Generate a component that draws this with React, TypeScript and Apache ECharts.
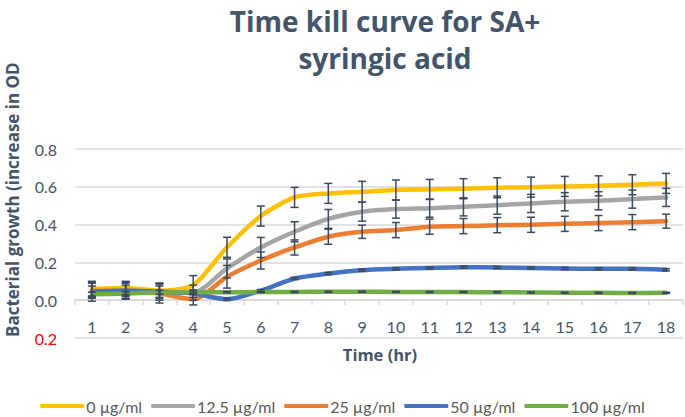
import React, { useEffect, useRef } from "react";
import * as echarts from "echarts";

const hours = ["1", "2", "3", "4", "5", "6", "7", "8", "9", "10", "11", "12", "13", "14", "15", "16", "17", "18"];

const seriesNames = ["0 µg/ml", "12.5 µg/ml", "25 µg/ml", "50 µg/ml", "100 µg/ml"];
const seriesColors = ["#FFC000", "#A5A5A5", "#ED7D31", "#4472C4", "#70AD47"];

const conc0 = [0.06, 0.065, 0.05, 0.08, 0.28, 0.445, 0.544, 0.565, 0.574, 0.583, 0.586, 0.59, 0.595, 0.598, 0.602, 0.605, 0.611, 0.618];
const conc12 = [0.045, 0.05, 0.045, 0.04, 0.168, 0.279, 0.362, 0.43, 0.468, 0.482, 0.487, 0.494, 0.503, 0.512, 0.521, 0.526, 0.535, 0.544];
const conc25 = [0.05, 0.05, 0.035, 0.005, 0.124, 0.21, 0.279, 0.336, 0.362, 0.371, 0.389, 0.392, 0.397, 0.399, 0.404, 0.408, 0.413, 0.418];
const conc50 = [0.045, 0.05, 0.045, 0.035, 0.005, 0.05, 0.115, 0.141, 0.159, 0.166, 0.171, 0.175, 0.173, 0.171, 0.168, 0.166, 0.166, 0.161];
const conc100 = [0.032, 0.035, 0.042, 0.042, 0.042, 0.043, 0.044, 0.045, 0.045, 0.044, 0.043, 0.043, 0.042, 0.041, 0.04, 0.039, 0.038, 0.039];

const err0 = [0.04, 0.035, 0.04, 0.05, 0.053, 0.053, 0.053, 0.053, 0.055, 0.053, 0.053, 0.053, 0.053, 0.053, 0.053, 0.053, 0.053, 0.053];
const err12 = [0.05, 0.045, 0.045, 0.04, 0.05, 0.053, 0.053, 0.05, 0.05, 0.048, 0.048, 0.048, 0.048, 0.048, 0.048, 0.048, 0.048, 0.048];
const err25 = [0.04, 0.04, 0.05, 0.03, 0.06, 0.045, 0.04, 0.04, 0.035, 0.04, 0.04, 0.04, 0.04, 0.04, 0.04, 0.04, 0.04, 0.037];
const err50 = [0.03, 0.03, 0.03, 0.02, 0.006, 0.006, 0.006, 0.006, 0.006, 0.006, 0.006, 0.006, 0.006, 0.006, 0.006, 0.006, 0.006, 0.006];
const err100 = [0.01, 0.01, 0.01, 0.005, 0.004, 0.003, 0.003, 0.003, 0.003, 0.003, 0.003, 0.003, 0.003, 0.003, 0.003, 0.003, 0.003, 0.003];

const yTicks = { min: -0.2, max: 0.8, interval: 0.2 };

const titleLines = ["Time kill curve for SA+", "syringic acid"];
const yTitle = "Bacterial growth (increase in OD";
const xTitle = "Time (hr)";

const allValues = [conc0, conc12, conc25, conc50, conc100];
const allErrors = [err0, err12, err25, err50, err100];

const FONT = "Lato";
const TEXT = "#44546A";

export default function App() {
  const ref = useRef<HTMLDivElement>(null);
  useEffect(() => {
    if (!ref.current) return;
    const chart = echarts.init(ref.current, undefined, { renderer: "svg" });

    const lineSeries: any[] = allValues.map((vals, i) => ({
      name: seriesNames[i],
      type: "line",
      data: vals,
      symbol: "none",
      smooth: 0.25,
      z: 2 + i,
      lineStyle: { color: seriesColors[i], width: 4.5, cap: "round", join: "round" },
      itemStyle: { color: seriesColors[i] },
    }));
    const errSeries: any[] = allValues.map((vals, i) => ({
      type: "custom",
      name: "err" + i,
      z: 10,
      silent: true,
      encode: { x: 0, y: [1, 2] },
      data: vals.map((v, k) => [k, v - allErrors[i][k], v + allErrors[i][k]]),
      renderItem: (params: any, api: any) => {
        const x = api.value(0);
        const lo = api.coord([x, api.value(1)]);
        const hi = api.coord([x, api.value(2)]);
        const hw = 4;
        const style = { stroke: "#3B4A5E", lineWidth: 1.5 };
        return {
          type: "group",
          children: [
            { type: "line", shape: { x1: lo[0], y1: lo[1], x2: hi[0], y2: hi[1] }, style },
            { type: "line", shape: { x1: lo[0] - hw, y1: lo[1], x2: lo[0] + hw, y2: lo[1] }, style },
            { type: "line", shape: { x1: hi[0] - hw, y1: hi[1], x2: hi[0] + hw, y2: hi[1] }, style },
          ],
        };
      },
    }));

    chart.setOption({
      animation: false,
      backgroundColor: "#ffffff",
      grid: { left: 75, right: 2, top: 149, bottom: 79, containLabel: false },
      graphic: [
        {
          type: "text",
          x: 385,
          y: 7,
          style: {
            text: titleLines[0],
            font: "bold 28px 'Open Sans'",
            fill: TEXT,
            align: "center",
            verticalAlign: "top",
          },
        },
        {
          type: "text",
          x: 385,
          y: 44,
          style: {
            text: titleLines[1],
            font: "bold 28px 'Open Sans'",
            fill: TEXT,
            align: "center",
            verticalAlign: "top",
          },
        },
        {
          type: "text",
          x: 12,
          y: 337,
          rotation: Math.PI / 2,
          style: {
            text: yTitle,
            font: "bold 17px 'Open Sans'",
            fill: TEXT,
            align: "left",
            verticalAlign: "middle",
          },
        },
        {
          type: "text",
          x: 380,
          y: 354,
          style: {
            text: xTitle,
            font: "bold 16.5px 'Open Sans'",
            fill: TEXT,
            align: "center",
            verticalAlign: "middle",
          },
        },
      ],
      legend: {
        top: 393,
        left: "center",
        icon: "roundRect",
        itemWidth: 44,
        itemHeight: 4,
        itemGap: 9,
        data: seriesNames,
        textStyle: { fontFamily: FONT, fontSize: 16, color: "#595959", padding: [0, 0, 0, -3] },
      },
      xAxis: {
        type: "category",
        data: hours,
        boundaryGap: true,
        offset: -38,
        axisLine: { onZero: false, lineStyle: { color: "#D9D9D9", width: 1.5 } },
        axisTick: { show: true, length: 5, lineStyle: { color: "#D9D9D9", width: 1.5 } },
        axisLabel: { fontFamily: FONT, fontSize: 16, color: TEXT, margin: 18 },
        splitLine: { show: false },
      },
      yAxis: {
        type: "value",
        min: yTicks.min,
        max: yTicks.max,
        interval: yTicks.interval,
        axisLine: { show: false },
        axisTick: { show: false },
        splitLine: { lineStyle: { color: "#D9D9D9", width: 1.5 } },
        axisLabel: {
          margin: 18,
          fontFamily: FONT,
          fontSize: 16,
          color: TEXT,
          formatter: (v: number) => (v < -0.01 ? `{neg|${Math.abs(v).toFixed(1)}}` : Math.abs(v).toFixed(1)),
          rich: { neg: { color: "#FF0000", fontFamily: FONT, fontSize: 16 } },
        },
      },
      series: [...lineSeries, ...errSeries],
    });
    return () => chart.dispose();
  }, []);
  return (
    <div
      ref={ref}
      style={{ position: "fixed", left: 0, top: 0, width: 685, height: 417 }}
    />
  );
}
